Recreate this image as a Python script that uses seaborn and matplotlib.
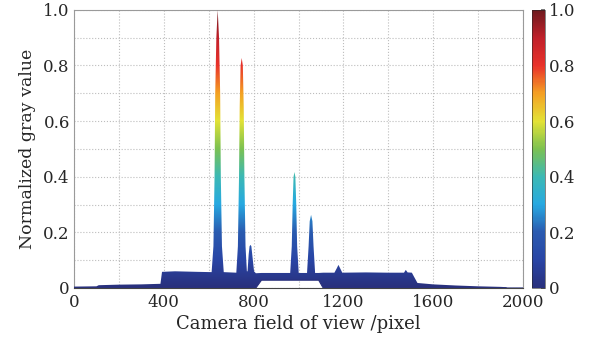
import numpy as np
import matplotlib
matplotlib.use("Agg")
import matplotlib.pyplot as plt
import seaborn as sns
from matplotlib.colors import LinearSegmentedColormap
from matplotlib.ticker import MultipleLocator

# camera pixel positions and envelope of the normalized gray profiles
pixel = [0, 100, 110, 200, 300, 385, 392, 450, 550, 613,
         621, 626, 629, 634, 640, 646, 651, 654, 659, 667,
         723, 730, 735, 738, 742, 747, 752, 756, 759, 764,
         770, 773, 778, 782, 786, 790, 794, 802, 810, 835,
         900, 963, 970, 974, 978, 982, 986, 990, 994, 1001,
         1038, 1045, 1050, 1056, 1062, 1067, 1074, 1090, 1110, 1160,
         1170, 1178, 1186, 1195, 1300, 1400, 1470, 1478, 1486, 1505,
         1515, 1530, 1600, 1700, 1800, 1900, 1925, 1930, 2000]
gray_top = [0.005, 0.006, 0.010, 0.012, 0.013, 0.015, 0.058, 0.060, 0.058, 0.057,
            0.150, 0.400, 0.700, 0.900, 1.000, 0.900, 0.700, 0.400, 0.150, 0.057,
            0.055, 0.150, 0.400, 0.650, 0.800, 0.827, 0.800, 0.650, 0.400, 0.150,
            0.060, 0.060, 0.120, 0.150, 0.155, 0.150, 0.120, 0.060, 0.053, 0.054,
            0.054, 0.054, 0.150, 0.300, 0.400, 0.417, 0.400, 0.300, 0.150, 0.054,
            0.054, 0.150, 0.240, 0.263, 0.240, 0.150, 0.054, 0.054, 0.055, 0.055,
            0.070, 0.083, 0.070, 0.055, 0.056, 0.055, 0.055, 0.065, 0.056, 0.055,
            0.040, 0.018, 0.013, 0.009, 0.006, 0.004, 0.003, 0.000, 0.000]
gray_bottom = [0.0] * 39 + [0.028] * 19 + [0.0] * 21

x_ticks = [0, 400, 800, 1200, 1600, 2000]
y_ticks = [0, 0.2, 0.4, 0.6, 0.8, 1.0]
y_labels = ["0", "0.2", "0.4", "0.6", "0.8", "1.0"]

# printed-jet look of the original colour bar
jet_colors = ["#29307c", "#2945a5", "#2a5bb0", "#27a9e1", "#3cb9b4", "#7cc151",
              "#e3e236", "#f4a023", "#e9322a", "#c0202a", "#6e1a1e"]
cmap = LinearSegmentedColormap.from_list("printjet", jet_colors)

sns.set_theme(style="white")
plt.rcParams["font.family"] = ["DejaVu Serif"]

fig = plt.figure(figsize=(5.97, 3.40), dpi=100)
ax = fig.add_axes([0.124, 0.153, 0.752, 0.818])
cax = fig.add_axes([0.891, 0.153, 0.022, 0.818])

df_x = np.array(pixel, dtype=float)
df_top = np.array(gray_top)
df_bot = np.array(gray_bottom)

# fill between the envelopes, coloured by height with a clipped gradient
poly = ax.fill_between(df_x, df_bot, df_top, facecolor="none", edgecolor="none")
grad = np.linspace(0, 1, 512).reshape(-1, 1)
im = ax.imshow(grad, extent=[0, 2000, 0, 1], origin="lower", aspect="auto",
               cmap=cmap, vmin=0, vmax=1, zorder=3)
im.set_clip_path(poly.get_paths()[0], transform=ax.transData)
sns.lineplot(x=df_x, y=df_bot, ax=ax, color=jet_colors[0], linewidth=0.8, zorder=4)

ax.set_xlim(0, 2000)
ax.set_ylim(0, 1.0)
ax.set_xticks(x_ticks)
ax.set_yticks(y_ticks)
ax.set_yticklabels(y_labels)
ax.xaxis.set_minor_locator(MultipleLocator(200))
ax.yaxis.set_minor_locator(MultipleLocator(0.1))
ax.grid(which="both", color="#bdbdbd", linestyle=":", linewidth=0.8, zorder=0)
ax.set_axisbelow(True)
ax.tick_params(which="both", direction="in", length=0, labelsize=12)
ax.tick_params(axis="x", pad=4)
ax.tick_params(axis="y", pad=3)
for s in ax.spines.values():
    s.set_color("#9a9a9a")
    s.set_linewidth(0.8)
ax.spines["bottom"].set_color("#444444")
ax.set_xlabel("Camera field of view /pixel", fontsize=13, labelpad=3)
ax.set_ylabel("Normalized gray value", fontsize=12.5, labelpad=5)

cb = fig.colorbar(im, cax=cax, ticks=y_ticks)
cb.ax.set_yticklabels(y_labels)
cb.ax.tick_params(labelsize=12, length=3, direction="in", color="#666666", pad=3)
cb.outline.set_linewidth(0.4)

fig.savefig("out.png", dpi=100, facecolor="white")
